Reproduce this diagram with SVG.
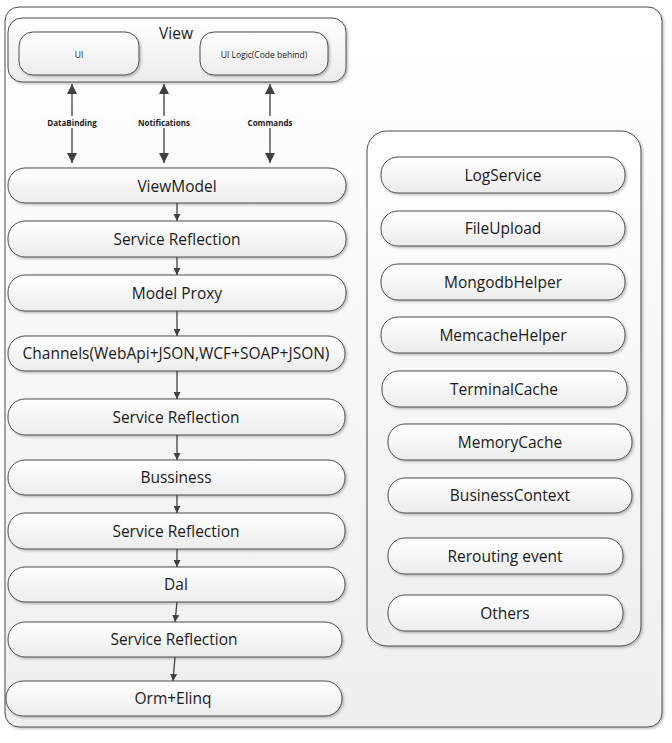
<svg xmlns="http://www.w3.org/2000/svg" width="672" height="743" viewBox="0 0 672 743">
<defs>
<linearGradient id="g" x1="0" y1="0" x2="0" y2="1">
<stop offset="0" stop-color="#ffffff"/>
<stop offset="1" stop-color="#ececec"/>
</linearGradient>
<linearGradient id="gOuter" x1="0" y1="0" x2="0" y2="1">
<stop offset="0" stop-color="#ffffff"/>
<stop offset="1" stop-color="#efefef"/>
</linearGradient>
<filter id="sh" x="-5%" y="-10%" width="110%" height="130%">
<feDropShadow dx="1.5" dy="1.5" stdDeviation="1" flood-color="#000" flood-opacity="0.25"/>
</filter>
<marker id="ah" viewBox="0 0 10 10" refX="10" refY="5" markerWidth="10" markerHeight="10" markerUnits="userSpaceOnUse" orient="auto-start-reverse">
<path d="M0,0 L10,5 L0,10 z" fill="#404040"/>
</marker>
<marker id="as" viewBox="0 0 10 10" refX="10" refY="5" markerWidth="7" markerHeight="7" markerUnits="userSpaceOnUse" orient="auto">
<path d="M0,0 L10,5 L0,10 z" fill="#404040"/>
</marker>
</defs>
<style>
.box{fill:url(#g);stroke:#4d4d4d;stroke-width:1;filter:url(#sh)}
.cont{fill:url(#gOuter);stroke:#4d4d4d;stroke-width:1;filter:url(#sh)}
.t{font-family:"Open Sans","Liberation Sans",sans-serif;font-size:15.5px;fill:#1a1a1a;text-anchor:middle;dominant-baseline:central}
.ts{font-family:"Open Sans","Liberation Sans",sans-serif;font-size:8.5px;fill:#1a1a1a;text-anchor:middle;dominant-baseline:central}
.lb{font-family:"Open Sans","Liberation Sans",sans-serif;font-size:8px;font-weight:bold;fill:#1a1a1a;text-anchor:middle;dominant-baseline:central}
.c{stroke:#404040;stroke-width:1.3;fill:none}
</style>
<g id="outer"><rect class="cont" x="5" y="7" width="657" height="720" rx="14"/></g>
<g id="view">
<rect class="box" x="8" y="18" width="338" height="64" rx="14"/>
<text class="t" x="176" y="33" font-size="16">View</text>
</g>
<g id="ui"><rect class="box" x="19" y="32" width="120" height="43" rx="14"/><text class="ts" x="79" y="54">UI</text></g>
<g id="uilogic"><rect class="box" x="200" y="32" width="128" height="43" rx="14"/><text class="ts" x="264" y="54">UI Logic(Code behind)</text></g>

<g id="services">
<rect class="cont" x="367" y="131" width="274" height="515" rx="20"/>
</g>
<g id="logservice"><rect class="box" x="381" y="157" width="244" height="36" rx="17"/><text class="t" x="503" y="174.5">LogService</text></g>
<g id="fileupload"><rect class="box" x="381" y="211" width="244" height="35" rx="17"/><text class="t" x="503" y="228">FileUpload</text></g>
<g id="mongodb"><rect class="box" x="381" y="264" width="244" height="36" rx="17"/><text class="t" x="503" y="281.5">MongodbHelper</text></g>
<g id="memcache"><rect class="box" x="381" y="317" width="244" height="36" rx="17"/><text class="t" x="503" y="334.5">MemcacheHelper</text></g>
<g id="terminal"><rect class="box" x="382" y="371" width="245" height="36" rx="17"/><text class="t" x="504" y="388.5">TerminalCache</text></g>
<g id="memory"><rect class="box" x="388" y="424" width="244" height="36" rx="17"/><text class="t" x="510" y="441.5">MemoryCache</text></g>
<g id="bizctx"><rect class="box" x="388" y="478" width="244" height="35" rx="17"/><text class="t" x="510" y="495">BusinessContext</text></g>
<g id="rerouting"><rect class="box" x="388" y="538" width="235" height="36" rx="17"/><text class="t" x="505" y="555.5">Rerouting event</text></g>
<g id="others"><rect class="box" x="388" y="595" width="235" height="36" rx="17"/><text class="t" x="505" y="612.5">Others</text></g>

<g id="viewmodel"><rect class="box" x="8" y="168" width="338" height="35" rx="17"/><text class="t" x="177" y="185.5">ViewModel</text></g>
<g id="sr1"><rect class="box" x="8" y="221" width="338" height="36" rx="17"/><text class="t" x="177" y="238.5">Service Reflection</text></g>
<g id="modelproxy"><rect class="box" x="8" y="275" width="338" height="36" rx="17"/><text class="t" x="177" y="292.5">Model Proxy</text></g>
<g id="channels"><rect class="box" x="8" y="336" width="337" height="35" rx="17"/><text class="t" x="176" y="352.5">Channels(WebApi+JSON,WCF+SOAP+JSON)</text></g>
<g id="sr2"><rect class="box" x="8" y="399" width="337" height="36" rx="17"/><text class="t" x="176" y="416.5">Service Reflection</text></g>
<g id="bussiness"><rect class="box" x="8" y="460" width="337" height="35" rx="17"/><text class="t" x="176" y="477">Bussiness</text></g>
<g id="sr3"><rect class="box" x="8" y="513" width="337" height="36" rx="17"/><text class="t" x="176" y="530.5">Service Reflection</text></g>
<g id="dal"><rect class="box" x="8" y="567" width="337" height="35" rx="17"/><text class="t" x="176" y="584">Dal</text></g>
<g id="sr4"><rect class="box" x="8" y="622" width="334" height="35" rx="17"/><text class="t" x="174" y="638.5">Service Reflection</text></g>
<g id="orm"><rect class="box" x="6" y="681" width="336" height="35" rx="17"/><text class="t" x="173" y="697.5">Orm+Elinq</text></g>

<g id="connectors">
<line class="c" x1="72" y1="84" x2="72" y2="163" marker-start="url(#ah)" marker-end="url(#ah)"/>
<line class="c" x1="164" y1="84" x2="164" y2="163" marker-start="url(#ah)" marker-end="url(#ah)"/>
<line class="c" x1="270" y1="84" x2="270" y2="163" marker-start="url(#ah)" marker-end="url(#ah)"/>
<rect x="40" y="116" width="64" height="12" fill="#fafafa"/>
<rect x="133" y="116" width="62" height="12" fill="#fafafa"/>
<rect x="243" y="116" width="54" height="12" fill="#fafafa"/>
<text class="lb" x="72" y="122">DataBinding</text>
<text class="lb" x="164" y="122">Notifications</text>
<text class="lb" x="270" y="122">Commands</text>
<line class="c" x1="177" y1="203" x2="177" y2="221" marker-end="url(#as)"/>
<line class="c" x1="177" y1="257" x2="177" y2="275" marker-end="url(#as)"/>
<line class="c" x1="177" y1="311" x2="177" y2="336" marker-end="url(#as)"/>
<line class="c" x1="177" y1="371" x2="177" y2="399" marker-end="url(#as)"/>
<line class="c" x1="177" y1="435" x2="177" y2="460" marker-end="url(#as)"/>
<line class="c" x1="177" y1="495" x2="177" y2="513" marker-end="url(#as)"/>
<line class="c" x1="177" y1="549" x2="177" y2="567" marker-end="url(#as)"/>
<line class="c" x1="177" y1="602" x2="175" y2="622" marker-end="url(#as)"/>
<line class="c" x1="175" y1="657" x2="173" y2="681" marker-end="url(#as)"/>
</g>
</svg>
